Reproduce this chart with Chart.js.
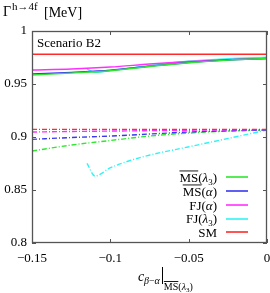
<!DOCTYPE html>
<html><head><meta charset="utf-8">
<script src="https://cdn.jsdelivr.net/npm/chart.js@4/dist/chart.umd.min.js"></script>
<style>html,body{margin:0;padding:0;background:#fff}#c{display:block}</style>
</head><body>
<canvas id="c" width="270" height="293"></canvas>
<script>
// ---- data ----
const xs = [-0.15, -0.125, -0.1, -0.075, -0.05, -0.025, 0];
const msL3Solid = [0.9585, 0.9603, 0.9625, 0.9665, 0.9700, 0.9725, 0.9740];
const msASolid  = [0.9594, 0.9610, 0.9630, 0.9668, 0.9703, 0.9727, 0.9740];
const fjASolid  = [0.9632, 0.9642, 0.9660, 0.9688, 0.9712, 0.9730, 0.9742];
const cyanXs = [-0.1149, -0.1098, -0.1002, -0.0874, -0.0747, -0.0504, -0.0249, 0];
const fjL3Solid = [0.9641, 0.9610, 0.9626, 0.9650, 0.9676, 0.9714, 0.9738, 0.9752];
const smSolid   = [0.978, 0.978, 0.978, 0.978, 0.978, 0.978, 0.978];
const msL3Dash = [0.8868, 0.8924, 0.8967, 0.9009, 0.9037, 0.9056, 0.9066];
const msADash  = [0.8978, 0.8995, 0.9009, 0.9028, 0.9047, 0.9058, 0.9066];
const fjADash  = [0.9047, 0.9052, 0.9056, 0.9060, 0.9064, 0.9067, 0.9070];
const fjL3Dash = [0.8752, 0.8632, 0.8708, 0.8778, 0.8830, 0.8906, 0.8986, 0.9066];
const smDash   = [0.9072, 0.9072, 0.9072, 0.9072, 0.9072, 0.9072, 0.9072];
const xTicks = [-0.15, -0.1, -0.05, 0];
const xTickLabels = ['\u22120.15', '\u22120.1', '\u22120.05', '0'];
const yTicks = [0.8, 0.85, 0.9, 0.95, 1];
const yTickLabels = ['0.8', '0.85', '0.9', '0.95', '1'];
const legendNames = ['MS(λ3)', 'MS(α)', 'FJ(α)', 'FJ(λ3)', 'SM'];

const GREEN = '#2ee82e', BLUE = '#3838f0', MAG = '#ff30ff', CYAN = '#30f4f4', RED = '#ff2a2a';
const legendColors = [GREEN, BLUE, MAG, CYAN, RED];
const DD = [5, 2, 1, 2];
const pts = (a, b) => a.map((x, i) => ({x, y: b[i]}));
const ds = (a, b, color, dash) => ({
  data: pts(a, b), borderColor: color, borderWidth: 1.4, borderDash: dash || [],
  pointRadius: 0, fill: false, tension: 0.35, cubicInterpolationMode: 'monotone'
});

const SERIF = '"Liberation Serif", "DejaVu Serif", serif';

const textPlugin = {
  id: 'texts',
  afterDraw(chart) {
    const ctx = chart.ctx, a = chart.chartArea;
    const xs_ = chart.scales.x, ys_ = chart.scales.y;
    ctx.save();
    ctx.setLineDash([]);
    // frame
    ctx.strokeStyle = '#555'; ctx.lineWidth = 1.3;
    ctx.strokeRect(Math.round(a.left) + 0.5, Math.round(a.top) + 0.5, Math.round(a.right - a.left) - 1, Math.round(a.bottom - a.top) - 1);
    // inward ticks
    ctx.lineWidth = 1;
    ctx.beginPath();
    xTicks.forEach(v => {
      const px = Math.round(xs_.getPixelForValue(v)) + 0.5;
      ctx.moveTo(px, a.bottom); ctx.lineTo(px, a.bottom - 4);
      ctx.moveTo(px, a.top); ctx.lineTo(px, a.top + 4);
    });
    yTicks.forEach(v => {
      const py = Math.round(ys_.getPixelForValue(v)) + 0.5;
      ctx.moveTo(a.left, py); ctx.lineTo(a.left + 4, py);
      ctx.moveTo(a.right, py); ctx.lineTo(a.right - 4, py);
    });
    ctx.stroke();

    ctx.fillStyle = '#000';
    ctx.textBaseline = 'alphabetic';
    ctx.textAlign = 'left';
    const F = (s, it) => (it ? 'italic ' : '') + s + 'px ' + SERIF;
    // title
    ctx.font = F(14); ctx.fillText('Γ', 3, 16);
    ctx.font = F(11); ctx.fillText('h→4f', 12, 10);
    ctx.font = F(14); ctx.fillText('[MeV]', 44, 17);
    // scenario
    ctx.font = F(13); ctx.fillText('Scenario B2', 37, 47);

    // legend
    const labelRight = 217;
    const ys = [177, 191, 205, 218.5, 232];
    const drawLabel = (name, yc) => {
      const base = yc + 4.5;
      let parts;
      if (name === 'MS(λ3)') parts = [['MS', 13, 0, true], ['(', 13, 0], ['λ', 13, 0, false, true], ['3', 9, 3], [')', 13, 0]];
      else if (name === 'MS(α)') parts = [['MS', 13, 0, true], ['(', 13, 0], ['α', 13, 0, false, true], [')', 13, 0]];
      else if (name === 'FJ(α)') parts = [['FJ', 13, 0], ['(', 13, 0], ['α', 13, 0, false, true], [')', 13, 0]];
      else if (name === 'FJ(λ3)') parts = [['FJ', 13, 0], ['(', 13, 0], ['λ', 13, 0, false, true], ['3', 9, 3], [')', 13, 0]];
      else parts = [['SM', 13, 0]];
      let total = 0;
      parts.forEach(p => { ctx.font = F(p[1], p[4]); p.w = ctx.measureText(p[0]).width; total += p.w; });
      let x = labelRight - total;
      ctx.fillStyle = '#000';
      parts.forEach(p => {
        ctx.font = F(p[1], p[4]);
        ctx.fillText(p[0], x, base + p[2]);
        if (p[3]) { ctx.fillRect(x, base - 11, p.w, 0.9); }
        x += p.w;
      });
    };
    legendNames.forEach((n, i) => {
      drawLabel(n, ys[i]);
    });
    legendNames.forEach((n, i) => {
      ctx.strokeStyle = legendColors[i]; ctx.lineWidth = 1.6;
      ctx.beginPath(); ctx.moveTo(226, Math.round(ys[i])); ctx.lineTo(248, Math.round(ys[i])); ctx.stroke();
    });

    // x axis label
    ctx.fillStyle = '#000';
    ctx.font = F(14, true); ctx.fillText('c', 138, 281);
    ctx.font = F(10, true); ctx.fillText('β', 144, 284);
    let xx = 144 + ctx.measureText('β').width;
    ctx.font = F(10); ctx.fillText('−', xx, 284); xx += ctx.measureText('−').width;
    ctx.font = F(10, true); ctx.fillText('α', xx, 284); xx += ctx.measureText('α').width + 2;
    ctx.fillRect(Math.round(xx), 267, 1, 17);
    xx += 2;
    ctx.font = F(10); ctx.fillText('MS', xx, 290);
    const msw = ctx.measureText('MS').width;
    ctx.fillRect(xx, 281, msw, 0.9);
    xx += msw;
    ctx.fillText('(', xx, 290); xx += ctx.measureText('(').width;
    ctx.font = F(10, true); ctx.fillText('λ', xx, 290); xx += ctx.measureText('λ').width;
    ctx.font = F(7); ctx.fillText('3', xx, 292); xx += ctx.measureText('3').width;
    ctx.font = F(10); ctx.fillText(')', xx, 290);
    ctx.restore();
  }
};

new Chart(document.getElementById('c'), {
  type: 'line',
  data: {
    datasets: [
      ds(xs, smSolid, RED),
      ds(xs, smDash, RED, DD),
      ds(xs, fjADash, MAG, DD),
      ds(xs, msADash, BLUE, DD),
      ds(xs, msL3Dash, GREEN, DD),
      ds(cyanXs, fjL3Dash, CYAN, DD),
      ds(xs, msL3Solid, GREEN),
      ds(xs, msASolid, BLUE),
      ds(xs, fjASolid, MAG),
      ds(cyanXs, fjL3Solid, CYAN)
    ]
  },
  options: {
    responsive: false, animation: false, devicePixelRatio: 1,
    layout: { padding: { top: 31, right: 3, left: 0, bottom: 0 } },
    plugins: { legend: { display: false }, tooltip: { enabled: false } },
    scales: {
      x: {
        type: 'linear', min: -0.15, max: 0,
        afterFit: s => { s.height = 50; s.paddingLeft = 0; s.paddingRight = 0; },
        afterBuildTicks: s => { s.ticks = xTicks.map(v => ({value: v})); },
        grid: { display: false, drawTicks: false },
        border: { display: false },
        ticks: { color: '#000', font: { family: SERIF, size: 13 }, padding: 8, maxRotation: 0,
          callback: (v) => { const i = xTicks.findIndex(t => Math.abs(t - v) < 1e-9); return i >= 0 ? xTickLabels[i] : ''; } }
      },
      y: {
        min: 0.8, max: 1,
        afterFit: s => { s.width = 32; s.paddingTop = 0; s.paddingBottom = 0; },
        afterBuildTicks: s => { s.ticks = yTicks.map(v => ({value: v})); },
        grid: { display: false, drawTicks: false },
        border: { display: false },
        ticks: { color: '#000', font: { family: SERIF, size: 13 }, padding: 5,
          callback: (v) => { const i = yTicks.findIndex(t => Math.abs(t - v) < 1e-9); return i >= 0 ? yTickLabels[i] : ''; } }
      }
    }
  },
  plugins: [textPlugin]
});
</script>
</body></html>
